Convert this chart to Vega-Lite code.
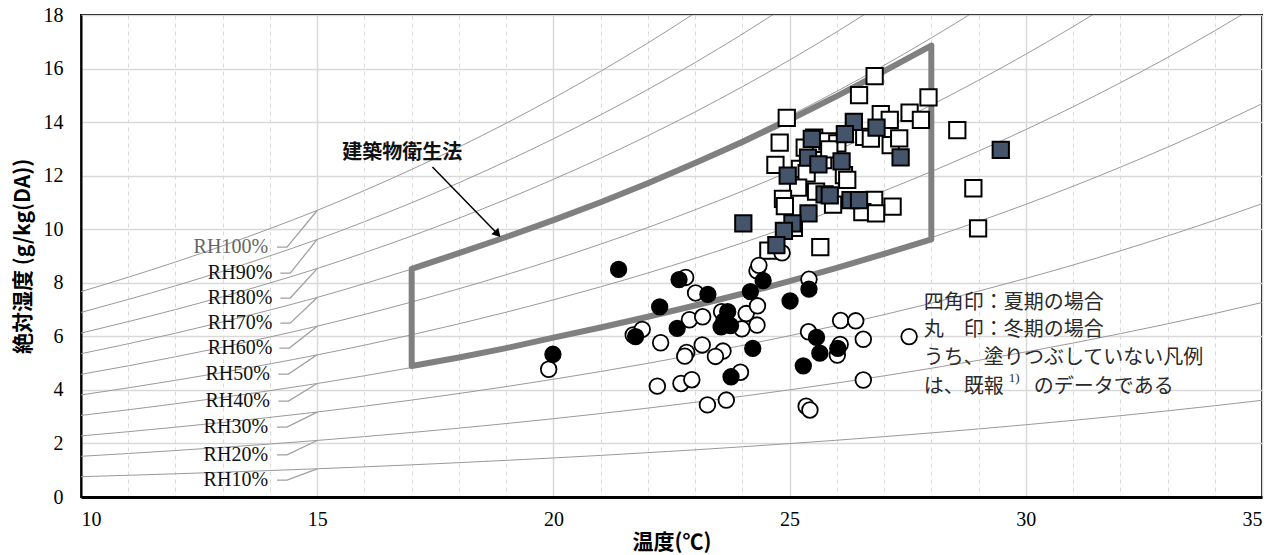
{
  "$schema": "https://vega.github.io/schema/vega-lite/v6.json",
  "width": 1181,
  "height": 482,
  "autosize": {"type": "none"},
  "padding": {"left": 81, "top": 15, "right": 23, "bottom": 58},
  "background": "white",
  "config": {
    "view": {"stroke": "#000", "strokeWidth": 2},
    "axis": {
      "labelFont": "Liberation Serif", "labelFontSize": 20, "labelColor": "#000",
      "titleFont": "Noto Sans CJK JP", "titleFontSize": 20, "titleFontWeight": "bold", "titleColor": "#000",
      "gridColor": "#d9d9d9", "ticks": false
    }
  },
  "datasets": {
    "rh": [
      {"rh":100,"t":10,"w":7.670},{"rh":100,"t":11,"w":8.207},{"rh":100,"t":12,"w":8.776},{"rh":100,"t":13,"w":9.381},{"rh":100,"t":14,"w":10.023},{"rh":100,"t":15,"w":10.704},{"rh":100,"t":16,"w":11.445},{"rh":100,"t":17,"w":12.233},{"rh":100,"t":18,"w":13.069},{"rh":100,"t":19,"w":13.957},{"rh":100,"t":20,"w":14.898},{"rh":100,"t":21,"w":15.897},{"rh":100,"t":22,"w":16.956},{"rh":100,"t":23,"w":18.079},{"rh":100,"t":24,"w":19.268},
      {"rh":90,"t":10,"w":6.894},{"rh":90,"t":11,"w":7.377},{"rh":90,"t":12,"w":7.887},{"rh":90,"t":13,"w":8.430},{"rh":90,"t":14,"w":9.006},{"rh":90,"t":15,"w":9.617},{"rh":90,"t":16,"w":10.282},{"rh":90,"t":17,"w":10.989},{"rh":90,"t":18,"w":11.737},{"rh":90,"t":19,"w":12.533},{"rh":90,"t":20,"w":13.376},{"rh":90,"t":21,"w":14.271},{"rh":90,"t":22,"w":15.219},{"rh":90,"t":23,"w":16.224},{"rh":90,"t":24,"w":17.289},{"rh":90,"t":25,"w":18.417},
      {"rh":80,"t":10,"w":6.121},{"rh":80,"t":11,"w":6.549},{"rh":80,"t":12,"w":7.001},{"rh":80,"t":13,"w":7.482},{"rh":80,"t":14,"w":7.993},{"rh":80,"t":15,"w":8.533},{"rh":80,"t":16,"w":9.123},{"rh":80,"t":17,"w":9.748},{"rh":80,"t":18,"w":10.412},{"rh":80,"t":19,"w":11.116},{"rh":80,"t":20,"w":11.862},{"rh":80,"t":21,"w":12.653},{"rh":80,"t":22,"w":13.492},{"rh":80,"t":23,"w":14.381},{"rh":80,"t":24,"w":15.322},{"rh":80,"t":25,"w":16.318},{"rh":80,"t":26,"w":17.373},{"rh":80,"t":27,"w":18.489},
      {"rh":70,"t":10,"w":5.350},{"rh":70,"t":11,"w":5.722},{"rh":70,"t":12,"w":6.117},{"rh":70,"t":13,"w":6.538},{"rh":70,"t":14,"w":6.983},{"rh":70,"t":15,"w":7.454},{"rh":70,"t":16,"w":7.968},{"rh":70,"t":17,"w":8.514},{"rh":70,"t":18,"w":9.092},{"rh":70,"t":19,"w":9.705},{"rh":70,"t":20,"w":10.355},{"rh":70,"t":21,"w":11.044},{"rh":70,"t":22,"w":11.775},{"rh":70,"t":23,"w":12.548},{"rh":70,"t":24,"w":13.366},{"rh":70,"t":25,"w":14.232},{"rh":70,"t":26,"w":15.150},{"rh":70,"t":27,"w":16.119},{"rh":70,"t":28,"w":17.144},{"rh":70,"t":29,"w":18.228},{"rh":70,"t":30,"w":19.374},
      {"rh":60,"t":10,"w":4.580},{"rh":60,"t":11,"w":4.898},{"rh":60,"t":12,"w":5.236},{"rh":60,"t":13,"w":5.595},{"rh":60,"t":14,"w":5.976},{"rh":60,"t":15,"w":6.379},{"rh":60,"t":16,"w":6.817},{"rh":60,"t":17,"w":7.283},{"rh":60,"t":18,"w":7.777},{"rh":60,"t":19,"w":8.301},{"rh":60,"t":20,"w":8.855},{"rh":60,"t":21,"w":9.443},{"rh":60,"t":22,"w":10.065},{"rh":60,"t":23,"w":10.725},{"rh":60,"t":24,"w":11.422},{"rh":60,"t":25,"w":12.161},{"rh":60,"t":26,"w":12.942},{"rh":60,"t":27,"w":13.767},{"rh":60,"t":28,"w":14.639},{"rh":60,"t":29,"w":15.562},{"rh":60,"t":30,"w":16.535},{"rh":60,"t":31,"w":17.564},{"rh":60,"t":32,"w":18.651},
      {"rh":50,"t":10,"w":3.812},{"rh":50,"t":11,"w":4.076},{"rh":50,"t":12,"w":4.358},{"rh":50,"t":13,"w":4.655},{"rh":50,"t":14,"w":4.972},{"rh":50,"t":15,"w":5.306},{"rh":50,"t":16,"w":5.671},{"rh":50,"t":17,"w":6.057},{"rh":50,"t":18,"w":6.467},{"rh":50,"t":19,"w":6.901},{"rh":50,"t":20,"w":7.362},{"rh":50,"t":21,"w":7.850},{"rh":50,"t":22,"w":8.366},{"rh":50,"t":23,"w":8.913},{"rh":50,"t":24,"w":9.490},{"rh":50,"t":25,"w":10.101},{"rh":50,"t":26,"w":10.748},{"rh":50,"t":27,"w":11.431},{"rh":50,"t":28,"w":12.153},{"rh":50,"t":29,"w":12.916},{"rh":50,"t":30,"w":13.721},{"rh":50,"t":31,"w":14.571},{"rh":50,"t":32,"w":15.467},{"rh":50,"t":33,"w":16.413},{"rh":50,"t":34,"w":17.412},{"rh":50,"t":35,"w":18.464},
      {"rh":40,"t":10,"w":3.046},{"rh":40,"t":11,"w":3.257},{"rh":40,"t":12,"w":3.481},{"rh":40,"t":13,"w":3.719},{"rh":40,"t":14,"w":3.971},{"rh":40,"t":15,"w":4.238},{"rh":40,"t":16,"w":4.528},{"rh":40,"t":17,"w":4.836},{"rh":40,"t":18,"w":5.163},{"rh":40,"t":19,"w":5.509},{"rh":40,"t":20,"w":5.876},{"rh":40,"t":21,"w":6.264},{"rh":40,"t":22,"w":6.675},{"rh":40,"t":23,"w":7.110},{"rh":40,"t":24,"w":7.570},{"rh":40,"t":25,"w":8.055},{"rh":40,"t":26,"w":8.569},{"rh":40,"t":27,"w":9.113},{"rh":40,"t":28,"w":9.686},{"rh":40,"t":29,"w":10.291},{"rh":40,"t":30,"w":10.929},{"rh":40,"t":31,"w":11.604},{"rh":40,"t":32,"w":12.315},{"rh":40,"t":33,"w":13.064},{"rh":40,"t":34,"w":13.854},{"rh":40,"t":35,"w":14.687},
      {"rh":30,"t":10,"w":2.281},{"rh":30,"t":11,"w":2.439},{"rh":30,"t":12,"w":2.607},{"rh":30,"t":13,"w":2.785},{"rh":30,"t":14,"w":2.974},{"rh":30,"t":15,"w":3.173},{"rh":30,"t":16,"w":3.391},{"rh":30,"t":17,"w":3.620},{"rh":30,"t":18,"w":3.865},{"rh":30,"t":19,"w":4.123},{"rh":30,"t":20,"w":4.397},{"rh":30,"t":21,"w":4.686},{"rh":30,"t":22,"w":4.993},{"rh":30,"t":23,"w":5.317},{"rh":30,"t":24,"w":5.661},{"rh":30,"t":25,"w":6.023},{"rh":30,"t":26,"w":6.405},{"rh":30,"t":27,"w":6.810},{"rh":30,"t":28,"w":7.237},{"rh":30,"t":29,"w":7.687},{"rh":30,"t":30,"w":8.163},{"rh":30,"t":31,"w":8.663},{"rh":30,"t":32,"w":9.192},{"rh":30,"t":33,"w":9.749},{"rh":30,"t":34,"w":10.336},{"rh":30,"t":35,"w":10.953},
      {"rh":20,"t":10,"w":1.520},{"rh":20,"t":11,"w":1.624},{"rh":20,"t":12,"w":1.736},{"rh":20,"t":13,"w":1.854},{"rh":20,"t":14,"w":1.979},{"rh":20,"t":15,"w":2.112},{"rh":20,"t":16,"w":2.256},{"rh":20,"t":17,"w":2.409},{"rh":20,"t":18,"w":2.571},{"rh":20,"t":19,"w":2.743},{"rh":20,"t":20,"w":2.924},{"rh":20,"t":21,"w":3.117},{"rh":20,"t":22,"w":3.320},{"rh":20,"t":23,"w":3.536},{"rh":20,"t":24,"w":3.762},{"rh":20,"t":25,"w":4.002},{"rh":20,"t":26,"w":4.257},{"rh":20,"t":27,"w":4.524},{"rh":20,"t":28,"w":4.807},{"rh":20,"t":29,"w":5.105},{"rh":20,"t":30,"w":5.418},{"rh":20,"t":31,"w":5.749},{"rh":20,"t":32,"w":6.099},{"rh":20,"t":33,"w":6.466},{"rh":20,"t":34,"w":6.853},{"rh":20,"t":35,"w":7.262},
      {"rh":10,"t":10,"w":0.759},{"rh":10,"t":11,"w":0.811},{"rh":10,"t":12,"w":0.866},{"rh":10,"t":13,"w":0.926},{"rh":10,"t":14,"w":0.988},{"rh":10,"t":15,"w":1.054},{"rh":10,"t":16,"w":1.126},{"rh":10,"t":17,"w":1.202},{"rh":10,"t":18,"w":1.283},{"rh":10,"t":19,"w":1.368},{"rh":10,"t":20,"w":1.458},{"rh":10,"t":21,"w":1.554},{"rh":10,"t":22,"w":1.656},{"rh":10,"t":23,"w":1.762},{"rh":10,"t":24,"w":1.875},{"rh":10,"t":25,"w":1.995},{"rh":10,"t":26,"w":2.121},{"rh":10,"t":27,"w":2.254},{"rh":10,"t":28,"w":2.394},{"rh":10,"t":29,"w":2.542},{"rh":10,"t":30,"w":2.698},{"rh":10,"t":31,"w":2.862},{"rh":10,"t":32,"w":3.036},{"rh":10,"t":33,"w":3.217},{"rh":10,"t":34,"w":3.409},{"rh":10,"t":35,"w":3.611}
    ],
    "leaders": [
      {"rh":100,"k":1,"t":14.15,"w":9.33},{"rh":100,"k":2,"t":14.36,"w":9.33},{"rh":100,"k":3,"t":15,"w":10.70},
      {"rh":90,"k":1,"t":14.22,"w":8.36},{"rh":90,"k":2,"t":14.43,"w":8.36},{"rh":90,"k":3,"t":15,"w":9.62},
      {"rh":80,"k":1,"t":14.22,"w":7.43},{"rh":80,"k":2,"t":14.43,"w":7.43},{"rh":80,"k":3,"t":15,"w":8.53},
      {"rh":70,"k":1,"t":14.22,"w":6.49},{"rh":70,"k":2,"t":14.43,"w":6.49},{"rh":70,"k":3,"t":15,"w":7.45},
      {"rh":60,"k":1,"t":14.20,"w":5.56},{"rh":60,"k":2,"t":14.41,"w":5.56},{"rh":60,"k":3,"t":15,"w":6.38},
      {"rh":50,"k":1,"t":14.18,"w":4.59},{"rh":50,"k":2,"t":14.39,"w":4.59},{"rh":50,"k":3,"t":15,"w":5.31},
      {"rh":40,"k":1,"t":14.18,"w":3.58},{"rh":40,"k":2,"t":14.39,"w":3.58},{"rh":40,"k":3,"t":15,"w":4.24},
      {"rh":30,"k":1,"t":14.15,"w":2.61},{"rh":30,"k":2,"t":14.36,"w":2.61},{"rh":30,"k":3,"t":15,"w":3.17},
      {"rh":20,"k":1,"t":14.15,"w":1.57},{"rh":20,"k":2,"t":14.36,"w":1.57},{"rh":20,"k":3,"t":15,"w":2.11},
      {"rh":10,"k":1,"t":14.15,"w":0.63},{"rh":10,"k":2,"t":14.36,"w":0.63},{"rh":10,"k":3,"t":15,"w":1.05}
    ],
    "rhlabels": [
      {"rh":100,"t":13.96,"w":9.33,"txt":"RH100%"},
      {"rh":90,"t":14.05,"w":8.36,"txt":"RH90%"},
      {"rh":80,"t":14.05,"w":7.43,"txt":"RH80%"},
      {"rh":70,"t":14.05,"w":6.49,"txt":"RH70%"},
      {"rh":60,"t":14.05,"w":5.56,"txt":"RH60%"},
      {"rh":50,"t":14.00,"w":4.59,"txt":"RH50%"},
      {"rh":40,"t":14.00,"w":3.58,"txt":"RH40%"},
      {"rh":30,"t":13.96,"w":2.61,"txt":"RH30%"},
      {"rh":20,"t":13.96,"w":1.57,"txt":"RH20%"},
      {"rh":10,"t":13.96,"w":0.63,"txt":"RH10%"}
    ],
    "poly": [
      {"k":1,"t":17,"w":4.89},{"k":2,"t":18,"w":5.21},{"k":3,"t":19,"w":5.56},{"k":4,"t":20,"w":5.95},{"k":5,"t":21,"w":6.33},{"k":6,"t":22,"w":6.73},{"k":7,"t":23,"w":7.15},{"k":8,"t":24,"w":7.59},{"k":9,"t":25,"w":8.06},{"k":10,"t":26,"w":8.56},{"k":11,"t":27,"w":9.08},{"k":12,"t":28,"w":9.62},
      {"k":13,"t":28,"w":16.86},{"k":14,"t":27,"w":15.90},{"k":15,"t":26,"w":14.97},{"k":16,"t":25,"w":14.09},{"k":17,"t":24,"w":13.26},{"k":18,"t":23,"w":12.47},{"k":19,"t":22,"w":11.72},{"k":20,"t":21,"w":11.01},{"k":21,"t":20,"w":10.34},{"k":22,"t":19,"w":9.71},{"k":23,"t":18,"w":9.11},{"k":24,"t":17,"w":8.52},
      {"k":25,"t":17,"w":4.89}
    ],
    "arrow": [
      {"k":1,"t":17.44,"w":12.32},{"k":2,"t":18.82,"w":9.82}
    ],
    "pts": [
      {"s":"夏","src":"既報","t":26.80,"w":15.72},{"s":"夏","src":"既報","t":26.47,"w":15.01},{"s":"夏","src":"既報","t":24.94,"w":14.16},{"s":"夏","src":"既報","t":27.94,"w":14.92},
      {"s":"夏","src":"既報","t":26.93,"w":14.30},{"s":"夏","src":"既報","t":27.12,"w":14.08},{"s":"夏","src":"既報","t":27.54,"w":14.35},{"s":"夏","src":"既報","t":27.78,"w":14.08},
      {"s":"夏","src":"既報","t":28.55,"w":13.70},{"s":"夏","src":"既報","t":24.79,"w":13.23},{"s":"夏","src":"既報","t":24.70,"w":12.40},{"s":"夏","src":"既報","t":25.52,"w":13.42},
      {"s":"夏","src":"既報","t":25.80,"w":13.28},{"s":"夏","src":"既報","t":25.32,"w":13.05},{"s":"夏","src":"既報","t":26.01,"w":13.21},{"s":"夏","src":"既報","t":26.58,"w":13.45},
      {"s":"夏","src":"既報","t":26.72,"w":13.38},{"s":"夏","src":"既報","t":27.14,"w":13.14},{"s":"夏","src":"既報","t":27.32,"w":13.39},{"s":"夏","src":"既報","t":25.71,"w":12.58},
      {"s":"夏","src":"既報","t":25.22,"w":12.25},{"s":"夏","src":"既報","t":25.36,"w":12.09},{"s":"夏","src":"既報","t":26.15,"w":12.02},{"s":"夏","src":"既報","t":26.22,"w":11.84},
      {"s":"夏","src":"既報","t":25.18,"w":11.55},{"s":"夏","src":"既報","t":24.86,"w":11.13},{"s":"夏","src":"既報","t":24.90,"w":10.86},{"s":"夏","src":"既報","t":25.92,"w":10.92},
      {"s":"夏","src":"既報","t":26.79,"w":11.10},{"s":"夏","src":"既報","t":27.18,"w":10.84},{"s":"夏","src":"既報","t":26.54,"w":10.64},{"s":"夏","src":"既報","t":26.83,"w":10.59},
      {"s":"夏","src":"既報","t":25.65,"w":9.33},{"s":"夏","src":"既報","t":24.55,"w":9.20},{"s":"夏","src":"既報","t":28.89,"w":11.53},{"s":"夏","src":"既報","t":28.99,"w":10.03},
      {"s":"夏","src":"既報","t":25.09,"w":10.05},{"s":"夏","src":"既報","t":25.84,"w":12.98},{"s":"夏","src":"既報","t":25.56,"w":11.40},
      {"s":"夏","src":"今回","t":26.36,"w":14.01},{"s":"夏","src":"今回","t":26.84,"w":13.79},{"s":"夏","src":"今回","t":26.17,"w":13.55},{"s":"夏","src":"今回","t":25.47,"w":13.37},
      {"s":"夏","src":"今回","t":25.39,"w":12.67},{"s":"夏","src":"今回","t":25.61,"w":12.42},{"s":"夏","src":"今回","t":26.10,"w":12.53},{"s":"夏","src":"今回","t":27.35,"w":12.68},
      {"s":"夏","src":"今回","t":24.96,"w":12.00},{"s":"夏","src":"今回","t":25.74,"w":11.30},{"s":"夏","src":"今回","t":25.85,"w":11.26},{"s":"夏","src":"今回","t":26.29,"w":11.09},
      {"s":"夏","src":"今回","t":26.47,"w":11.09},{"s":"夏","src":"今回","t":25.40,"w":10.59},{"s":"夏","src":"今回","t":24.02,"w":10.22},{"s":"夏","src":"今回","t":25.06,"w":10.22},
      {"s":"夏","src":"今回","t":24.88,"w":9.94},{"s":"夏","src":"今回","t":24.72,"w":9.41},{"s":"夏","src":"今回","t":29.47,"w":12.96},
      {"s":"冬","src":"既報","t":19.90,"w":4.77},{"s":"冬","src":"既報","t":21.69,"w":6.05},{"s":"冬","src":"既報","t":21.88,"w":6.26},{"s":"冬","src":"既報","t":22.27,"w":5.76},
      {"s":"冬","src":"既報","t":22.80,"w":8.20},{"s":"冬","src":"既報","t":23.01,"w":7.62},{"s":"冬","src":"既報","t":22.88,"w":6.62},{"s":"冬","src":"既報","t":23.16,"w":6.73},
      {"s":"冬","src":"既報","t":23.56,"w":6.92},{"s":"冬","src":"既報","t":24.08,"w":6.85},{"s":"冬","src":"既報","t":24.32,"w":7.14},{"s":"冬","src":"既報","t":24.31,"w":6.42},
      {"s":"冬","src":"既報","t":23.99,"w":6.28},{"s":"冬","src":"既報","t":22.82,"w":5.40},{"s":"冬","src":"既報","t":22.78,"w":5.26},{"s":"冬","src":"既報","t":23.15,"w":5.68},
      {"s":"冬","src":"既報","t":23.59,"w":5.45},{"s":"冬","src":"既報","t":23.43,"w":5.25},{"s":"冬","src":"既報","t":24.31,"w":8.45},{"s":"冬","src":"既報","t":24.35,"w":8.65},
      {"s":"冬","src":"既報","t":24.84,"w":9.12},{"s":"冬","src":"既報","t":25.41,"w":8.13},{"s":"冬","src":"既報","t":25.40,"w":6.17},{"s":"冬","src":"既報","t":26.08,"w":6.59},
      {"s":"冬","src":"既報","t":26.40,"w":6.58},{"s":"冬","src":"既報","t":26.07,"w":5.70},{"s":"冬","src":"既報","t":26.01,"w":5.30},{"s":"冬","src":"既報","t":26.56,"w":5.89},
      {"s":"冬","src":"既報","t":27.53,"w":5.99},{"s":"冬","src":"既報","t":22.20,"w":4.14},{"s":"冬","src":"既報","t":22.70,"w":4.24},{"s":"冬","src":"既報","t":22.93,"w":4.38},
      {"s":"冬","src":"既報","t":23.96,"w":4.66},{"s":"冬","src":"既報","t":26.56,"w":4.37},{"s":"冬","src":"既報","t":23.26,"w":3.44},{"s":"冬","src":"既報","t":23.66,"w":3.62},
      {"s":"冬","src":"既報","t":25.35,"w":3.39},{"s":"冬","src":"既報","t":25.43,"w":3.25},
      {"s":"冬","src":"今回","t":19.99,"w":5.33},{"s":"冬","src":"今回","t":21.38,"w":8.50},{"s":"冬","src":"今回","t":22.66,"w":8.12},{"s":"冬","src":"今回","t":23.27,"w":7.57},
      {"s":"冬","src":"今回","t":22.25,"w":7.10},{"s":"冬","src":"今回","t":24.44,"w":8.08},{"s":"冬","src":"今回","t":24.17,"w":7.67},{"s":"冬","src":"今回","t":25.01,"w":7.32},
      {"s":"冬","src":"今回","t":25.41,"w":7.76},{"s":"冬","src":"今回","t":23.69,"w":6.92},{"s":"冬","src":"今回","t":23.61,"w":6.58},{"s":"冬","src":"今回","t":23.75,"w":6.40},
      {"s":"冬","src":"今回","t":23.55,"w":6.35},{"s":"冬","src":"今回","t":22.62,"w":6.30},{"s":"冬","src":"今回","t":21.74,"w":5.99},{"s":"冬","src":"今回","t":24.22,"w":5.55},
      {"s":"冬","src":"今回","t":25.57,"w":5.96},{"s":"冬","src":"今回","t":25.64,"w":5.37},{"s":"冬","src":"今回","t":26.02,"w":5.55},{"s":"冬","src":"今回","t":25.29,"w":4.90},
      {"s":"冬","src":"今回","t":23.76,"w":4.49}
    ],
    "notes": [
      {"t":27.84,"w":7.23,"txt":"四角印：夏期の場合"},
      {"t":27.84,"w":6.24,"txt":"丸　印：冬期の場合"},
      {"t":27.84,"w":5.18,"txt":"うち、塗りつぶしていない凡例"},
      {"t":27.84,"w":4.12,"txt":"は、既報"},
      {"t":30.17,"w":4.12,"txt":"のデータである"}
    ],
    "sup": [{"t":29.64,"w":4.44,"txt":"1)"}],
    "lawlabel": [{"t":16.80,"w":12.85,"txt":"建築物衛生法"}]
  },
  "layer": [
    {
      "data": {"name": "rh"},
      "mark": {"type": "line", "clip": true, "color": "#9a9a9a", "strokeWidth": 1, "interpolate": "monotone"},
      "encoding": {
        "x": {"field": "t", "type": "quantitative",
          "scale": {"domain": [10, 35], "nice": false, "zero": false},
          "axis": {
            "values": [10,11,12,13,14,15,16,17,18,19,20,21,22,23,24,25,26,27,28,29,30,31,32,33,34,35],
            "labelExpr": "datum.value % 5 === 0 ? datum.label : ''",
            "gridDash": {"condition": {"test": "datum.value % 5 !== 0", "value": [4, 4]}, "value": []},
            "gridWidth": {"condition": {"test": "datum.value % 5 !== 0", "value": 1}, "value": 1.5},
            "domainColor": "#000", "domainWidth": 3, "labelPadding": 12,
            "title": "温度(℃)", "titlePadding": 2, "titleFontSize": 21
          }
        },
        "y": {"field": "w", "type": "quantitative",
          "scale": {"domain": [0, 18], "nice": false, "zero": true},
          "axis": {
            "values": [0,2,4,6,8,10,12,14,16,18],
            "gridWidth": 1.5, "domainColor": "#000", "domainWidth": 2, "labelPadding": 18,
            "title": "絶対湿度 (g/kg(DA))", "titlePadding": 10, "titleFontSize": 21
          }
        },
        "detail": {"field": "rh", "type": "nominal"}
      }
    },
    {
      "data": {"name": "leaders"},
      "mark": {"type": "line", "color": "#a0a0a0", "strokeWidth": 1.3},
      "encoding": {
        "x": {"field": "t", "type": "quantitative"},
        "y": {"field": "w", "type": "quantitative"},
        "detail": {"field": "rh", "type": "nominal"},
        "order": {"field": "k", "type": "quantitative"}
      }
    },
    {
      "data": {"name": "rhlabels"},
      "mark": {"type": "text", "align": "right", "baseline": "middle", "font": "Liberation Serif", "fontSize": 20},
      "encoding": {
        "x": {"field": "t", "type": "quantitative"},
        "y": {"field": "w", "type": "quantitative"},
        "text": {"field": "txt"},
        "color": {"condition": {"test": "datum.rh === 100", "value": "#666666"}, "value": "#111111"}
      }
    },
    {
      "data": {"name": "poly"},
      "mark": {"type": "line", "color": "#808080", "strokeWidth": 6, "strokeCap": "round", "strokeJoin": "round"},
      "encoding": {
        "x": {"field": "t", "type": "quantitative"},
        "y": {"field": "w", "type": "quantitative"},
        "order": {"field": "k", "type": "quantitative"}
      }
    },
    {
      "data": {"name": "pts"},
      "transform": [{"filter": "datum.s === '夏' && datum.src === '既報'"}],
      "mark": {"type": "point", "shape": "square", "filled": true, "fill": "white", "stroke": "#000", "strokeWidth": 2, "size": 265, "opacity": 1},
      "encoding": {"x": {"field": "t", "type": "quantitative"}, "y": {"field": "w", "type": "quantitative"}}
    },
    {
      "data": {"name": "pts"},
      "transform": [{"filter": "datum.s === '冬' && datum.src === '既報'"}],
      "mark": {"type": "point", "shape": "circle", "filled": true, "fill": "white", "stroke": "#000", "strokeWidth": 1.8, "size": 245, "opacity": 1},
      "encoding": {"x": {"field": "t", "type": "quantitative"}, "y": {"field": "w", "type": "quantitative"}}
    },
    {
      "data": {"name": "pts"},
      "transform": [{"filter": "datum.s === '夏' && datum.src === '今回'"}],
      "mark": {"type": "point", "shape": "square", "filled": true, "fill": "#44546a", "stroke": "#000", "strokeWidth": 2, "size": 265, "opacity": 1},
      "encoding": {"x": {"field": "t", "type": "quantitative"}, "y": {"field": "w", "type": "quantitative"}}
    },
    {
      "data": {"name": "pts"},
      "transform": [{"filter": "datum.s === '冬' && datum.src === '今回'"}],
      "mark": {"type": "point", "shape": "circle", "filled": true, "fill": "#000", "stroke": "#000", "strokeWidth": 1.5, "size": 250, "opacity": 1},
      "encoding": {"x": {"field": "t", "type": "quantitative"}, "y": {"field": "w", "type": "quantitative"}}
    },
    {
      "data": {"name": "arrow"},
      "mark": {"type": "line", "color": "#000", "strokeWidth": 1.5},
      "encoding": {
        "x": {"field": "t", "type": "quantitative"},
        "y": {"field": "w", "type": "quantitative"},
        "order": {"field": "k", "type": "quantitative"}
      }
    },
    {
      "data": {"name": "arrow"},
      "transform": [{"filter": "datum.k === 2"}],
      "mark": {"type": "point", "shape": "triangle-up", "filled": true, "color": "#000", "size": 90, "angle": 137, "opacity": 1},
      "encoding": {"x": {"field": "t", "type": "quantitative"}, "y": {"field": "w", "type": "quantitative"}}
    },
    {
      "data": {"name": "lawlabel"},
      "mark": {"type": "text", "align": "center", "baseline": "middle", "font": "Noto Sans CJK JP", "fontSize": 20, "fontWeight": "bold", "color": "#111"},
      "encoding": {"x": {"field": "t", "type": "quantitative"}, "y": {"field": "w", "type": "quantitative"}, "text": {"field": "txt"}}
    },
    {
      "data": {"name": "notes"},
      "mark": {"type": "text", "align": "left", "baseline": "middle", "font": "Noto Sans CJK JP", "fontSize": 20, "color": "#2a2a2a"},
      "encoding": {"x": {"field": "t", "type": "quantitative"}, "y": {"field": "w", "type": "quantitative"}, "text": {"field": "txt"}}
    },
    {
      "data": {"name": "sup"},
      "mark": {"type": "text", "align": "left", "baseline": "middle", "font": "Liberation Serif", "fontSize": 13, "color": "#2a2a2a"},
      "encoding": {"x": {"field": "t", "type": "quantitative"}, "y": {"field": "w", "type": "quantitative"}, "text": {"field": "txt"}}
    }
  ]
}
